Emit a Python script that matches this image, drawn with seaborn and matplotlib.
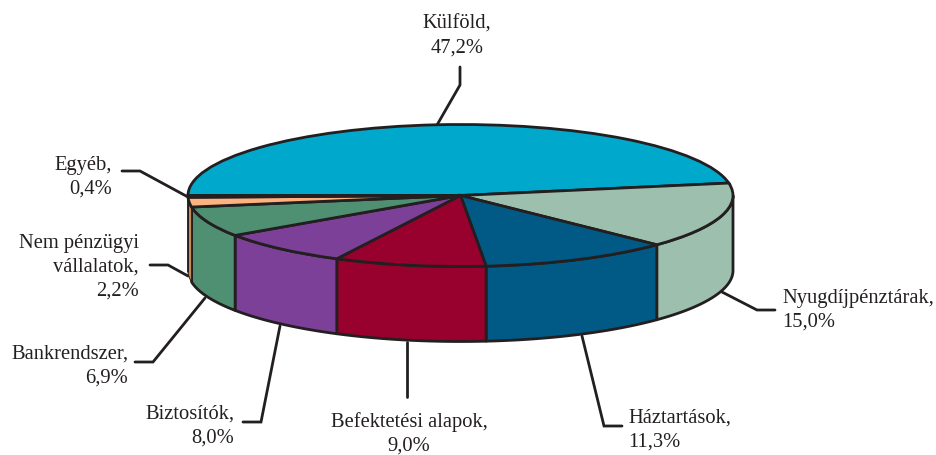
import numpy as np
import seaborn as sns
import matplotlib.pyplot as plt

names = ["Külföld", "Nyugdíjpénztárak", "Háztartások", "Befektetési alapok",
         "Biztosítók", "Bankrendszer", "Nem pénzügyi\nvállalatok", "Egyéb"]
shares = [47.2, 15.0, 11.3, 9.0, 8.0, 6.9, 2.2, 0.4]
colors = ["#00a8cc", "#9dbfae", "#005a85", "#98002e",
          "#7d4098", "#4f9072", "#fdb37f", "#c68a55"]
side_colors = ["#00a8cc", "#9dbfae", "#005a85", "#98002e",
               "#7d4098", "#4f9072", "#c68a55", "#c68a55"]

# pixel places of the labels and their leader lines
label_pos = [(457, 36, "center"), (782, 310, "left"), (628, 430, "left"), (409, 433.5, "center"),
             (234, 426, "right"), (128, 366, "right"), (139, 267, "right"), (112, 177.5, "right")]
leaders = [[(460, 67), (460, 85), (437, 125)],
           [(722, 292), (757, 310), (775, 310)],
           [(582, 336), (604, 426), (622, 426)],
           [(407, 342), (407, 397)],
           [(280, 326), (261, 422), (243, 422)],
           [(205, 298), (153, 362), (135, 362)],
           [(188, 276), (168, 265), (150, 265)],
           [(188, 197), (140, 171), (122, 171)]]

cx, cy, rx, ry, depth = 460.5, 195.5, 272.5, 71, 75
line = "#231f20"

sns.set_theme(style="white")
plt.rcParams['font.family'] = ['Liberation Serif', 'DejaVu Sans']


def px(x, y):
    return (np.asarray(x, dtype=float) - cx) / rx, (cy - np.asarray(y, dtype=float)) / ry


fig = plt.figure(figsize=(9.37, 4.55), dpi=100)
ax = fig.add_axes([0, 0, 1, 1])

# side wall, only the front half of the cylinder shows
edges = 180 - np.cumsum([0] + shares) * 3.6
d = depth / ry
for i in range(len(shares)):
    lo, hi = edges[i + 1], min(edges[i], 0)
    if lo >= 0:
        continue
    t = np.radians(np.linspace(lo, hi, 60))
    xs = np.concatenate([np.cos(t), np.cos(t[::-1])])
    ys = np.concatenate([np.sin(t), np.sin(t[::-1]) - d])
    # thin slices would disappear under a full outline
    lw = 2.0 if shares[i] > 3 else 0.7
    ax.fill(xs, ys, facecolor=side_colors[i], edgecolor=line, lw=lw, joinstyle="round")

ax.pie(shares, colors=colors, startangle=180, counterclock=False, radius=1, center=(0, 0),
       wedgeprops={"edgecolor": line, "linewidth": 2.0})
ax.set_aspect("auto")
ax.set_xlim(*px([0, 937], [0, 0])[0])
ax.set_ylim(px([0, 0], [455, 0])[1])
ax.axis("off")

for pts in leaders:
    xs, ys = px([p[0] for p in pts], [p[1] for p in pts])
    ax.plot(xs, ys, color=line, lw=2.0, solid_joinstyle="miter", zorder=0.5)

for name, share, (x, y, ha) in zip(names, shares, label_pos):
    tx, ty = px(x, y)
    label = name + ",\n" + f"{share:.1f}".replace(".", ",") + "%"
    ax.text(tx, ty, label, ha=ha, va="center", multialignment=ha, fontsize=14.8,
            color=line, linespacing=1.33, clip_on=True)

plt.savefig("out.png", dpi=100)
